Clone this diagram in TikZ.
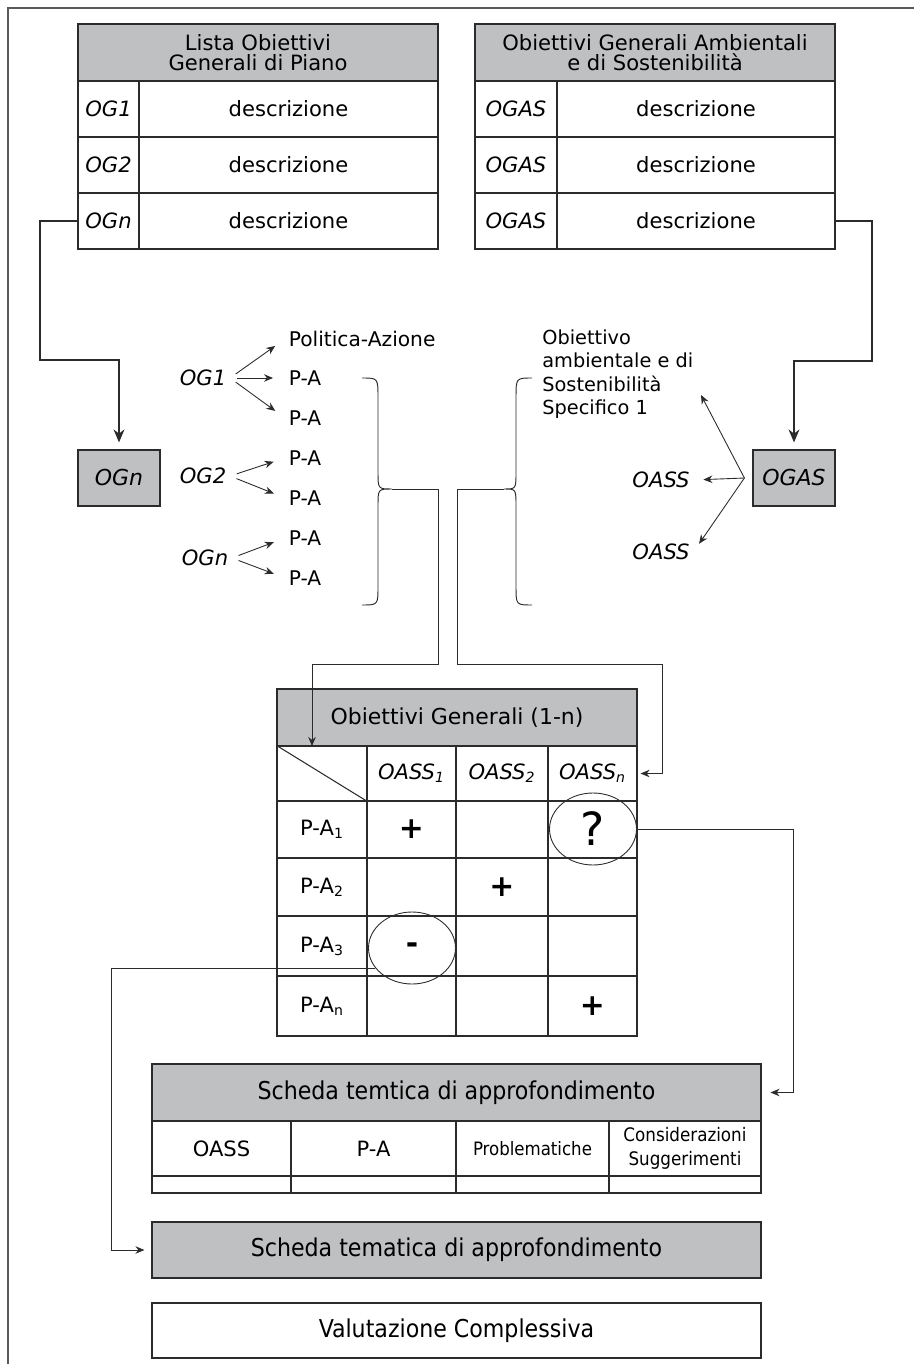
\documentclass[tikz,border=0pt]{standalone}
\usepackage{fontspec}
\setmainfont{DejaVu Sans}
\newfontfamily\condfont{DejaVu Sans Condensed}
\usepackage{tikz}
\usetikzlibrary{arrows.meta,positioning,calc,shapes.geometric}
\usepackage{xcolor}
\definecolor{vasGray}{HTML}{BFC0C2}
\definecolor{vasLine}{HTML}{2B2B2B}
\definecolor{vasFrame}{HTML}{5A5A5A}
\newcommand{\fsz}[2]{\fontsize{#1}{#2}\selectfont}
\tikzset{
  arr/.style={-{Stealth[length=2.6mm,width=2.2mm]}, line width=0.6pt, draw=vasLine},
  arrs/.style={-{Stealth[length=1.8mm,width=1.5mm]}, line width=0.5pt, draw=vasLine},
  cell/.style={draw=vasLine, line width=0.7pt, fill=white, inner sep=0pt, align=center, font=\fsz{12}{14}},
  hcell/.style={cell, fill=vasGray, font=\fsz{12}{11.5}},
  codecell/.style={cell, font=\fsz{12}{14}\itshape},
  gbox/.style={cell, fill=vasGray, minimum width=1.64cm, minimum height=1.12cm, font=\fsz{12.5}{14}\itshape},
  lab/.style={inner sep=2pt, font=\fsz{11.5}{13}},
  ilab/.style={inner sep=2pt, font=\fsz{12}{14}\itshape},
  sign/.style={inner sep=0pt, font=\fsz{17}{18}\bfseries},
  ring/.style={ellipse, draw=vasLine, line width=0.5pt, minimum width=1.74cm, minimum height=1.44cm, inner sep=0pt, font=\fsz{26}{28}},
  sheet/.style={cell, font=\condfont\fsz{14}{16}},
  curly/.style={line width=0.55pt, draw=vasLine}
}
\begin{document}
\begin{tikzpicture}[x=0.02cm,y=-0.02cm]
  \useasboundingbox (0,0) rectangle (914,1364);
  \draw[vasFrame, line width=1.1pt] (914,8) -- (8,8) -- (8,1364);

  \node[hcell, minimum width=7.2cm, minimum height=1.14cm] (lh) at (258,52.5) {Lista Obiettivi\\Generali di Piano};
  \foreach \y/\c [count=\i] in {109/OG1,165/OG2,221/OGn}{
    \node[codecell, minimum width=1.22cm, minimum height=1.12cm] (lc\i) at (108.5,\y) {\c};
    \node[cell, minimum width=5.98cm, minimum height=1.12cm] (ld\i) at (288.5,\y) {descrizione};
  }
  \node[hcell, minimum width=7.2cm, minimum height=1.14cm] (rh) at (655,52.5) {Obiettivi Generali Ambientali\\e di Sostenibilità};
  \foreach \y [count=\i] in {109,165,221}{
    \node[codecell, minimum width=1.64cm, minimum height=1.12cm] (rc\i) at (516,\y) {OGAS};
    \node[cell, minimum width=5.56cm, minimum height=1.12cm] (rd\i) at (696,\y) {descrizione};
  }

  \node[gbox] (ogn) at (119,478) {OGn};
  \node[gbox] (ogas) at (794,478) {OGAS};
  \coordinate (tl) at (40,360);
  \coordinate (tr) at (872,361);
  \draw[arr, shorten >=0.14cm] (lc3.west) -| (tl) -| (ogn.north);
  \draw[arr, shorten >=0.14cm] (rd3.east) -| (tr) -| (ogas.north);

  \node[ilab] (og1) at (203,378) {OG1};
  \node[ilab] (og2) at (203,476) {OG2};
  \node[ilab] (ogk) at (205,558) {OGn};
  \node[lab, anchor=west] (pa0) at (285,339) {Politica-Azione};
  \foreach \y [count=\i] in {378,418,458,498,538,578}
    \node[lab, anchor=west] (pa\i) at (285,\y) {P-A};
  \foreach \s/\t in {og1/pa0,og1/pa1,og1/pa2,og2/pa3,og2/pa4,ogk/pa5,ogk/pa6}
    \draw[arrs, shorten <=0.14cm, shorten >=0.24cm] (\s.east) -- (\t.west);

  \draw[curly] (362,378) .. controls (378,378) .. (378,398) -- (378,472) .. controls (378,489) .. (392,489)
    .. controls (378,489) .. (378,506) -- (378,586) .. controls (378,605) .. (362,605);
  \coordinate (bl) at (392,489);
  \draw[curly] (532,378) .. controls (516,378) .. (516,398) -- (516,472) .. controls (516,489) .. (504,489)
    .. controls (516,489) .. (516,506) -- (516,586) .. controls (516,605) .. (532,605);
  \coordinate (br) at (504,489);

  \node[lab, anchor=west, align=left, inner sep=0pt, font=\fsz{11}{13.3}] (oas) at (542,374) {Obiettivo\\ambientale e di\\Sostenibilità\\Specifico 1};
  \node[ilab] (oass1) at (661,480) {OASS};
  \node[ilab] (oass2) at (661,552) {OASS};
  \coordinate (fan) at ([xshift=-0.16cm]ogas.west);
  \coordinate (f1) at (701,395);
  \draw[arrs] (fan) -- (f1);
  \draw[arrs, shorten >=0.2cm] (fan) -- (oass1.east);
  \draw[arrs, shorten >=0.2cm] (fan) -- (oass2.east);

  \node[hcell, minimum width=7.2cm, minimum height=1.14cm, font=\fsz{12.5}{14}] (mh) at (457,717.5) {Obiettivi Generali (1-n)};
  \foreach \x/\w [count=\j] in {322/1.8cm,411.5/1.78cm,502/1.84cm,592.5/1.78cm}
    \foreach \y/\h [count=\i] in {773.5/1.1cm,829.5/1.14cm,887/1.16cm,946/1.2cm,1006/1.2cm}
      \node[cell, minimum width=\w, minimum height=\h] (m\i\j) at (\x,\y) {};
  \draw[line width=0.6pt, vasLine] (m11.north west) -- (m11.south east);
  \foreach \j/\s in {2/1,3/2,4/n}
    \node[ilab] (oh\j) at (m1\j) {OASS\textsubscript{\s}};
  \foreach \i/\s in {2/1,3/2,4/3,5/n}
    \node[lab, font=\fsz{12}{14}] (pr\i) at (m\i1) {P-A\textsubscript{\s}};
  \node[sign] (s1) at (m22) {+};
  \node[sign] (s2) at (m33) {+};
  \node[sign] (s3) at (m54) {+};
  \node[ring] (qm) at (593,829) {?};
  \node[ring, font=\fsz{17}{18}\bfseries] (mn) at (412,948) {-};

  \coordinate (c1) at (438,664);
  \coordinate (c2) at (457,664);
  \coordinate (c3) at (662,773.5);
  \coordinate (mt) at (312,746);
  \draw[arrs] (bl) -| (c1) -| (mt);
  \draw[arrs, shorten >=0.06cm] (br) -| (c2) -| (c3) -- (m14.east);

  \node[sheet, fill=vasGray, minimum width=12.18cm, minimum height=1.14cm] (sh) at (456.5,1092.5) {Scheda temtica di approfondimento};
  \node[cell, minimum width=2.78cm, minimum height=1.1cm] (sc1) at (221.5,1148.5) {OASS};
  \node[cell, minimum width=3.3cm, minimum height=1.1cm] (sc2) at (373.5,1148.5) {P-A};
  \node[cell, minimum width=3.06cm, minimum height=1.1cm, font=\condfont\fsz{10.5}{12}] (sc3) at (532.5,1148.5) {Problematiche};
  \node[cell, minimum width=3.04cm, minimum height=1.1cm, font=\condfont\fsz{10.6}{14}] (sc4) at (685,1148.5) {Considerazioni\\Suggerimenti};
  \foreach \x/\w [count=\j] in {221.5/2.78cm,373.5/3.3cm,532.5/3.06cm,685/3.04cm}
    \node[cell, minimum width=\w, minimum height=0.34cm] (se\j) at (\x,1184.5) {};
  \node[sheet, fill=vasGray, minimum width=12.18cm, minimum height=1.12cm] (st) at (456.5,1250) {Scheda tematica di approfondimento};
  \node[sheet, minimum width=12.18cm, minimum height=1.1cm] (vc) at (456.5,1330.5) {Valutazione Complessiva};

  \coordinate (c4) at (793,1092.5);
  \draw[arrs, shorten >=0.18cm] (qm.east) -| (c4) -- (sh.east);
  \coordinate (c5) at (111,1250);
  \draw[arrs, shorten >=0.14cm] (mn.209) -| (c5) -- (st.west);
\end{tikzpicture}
\end{document}
